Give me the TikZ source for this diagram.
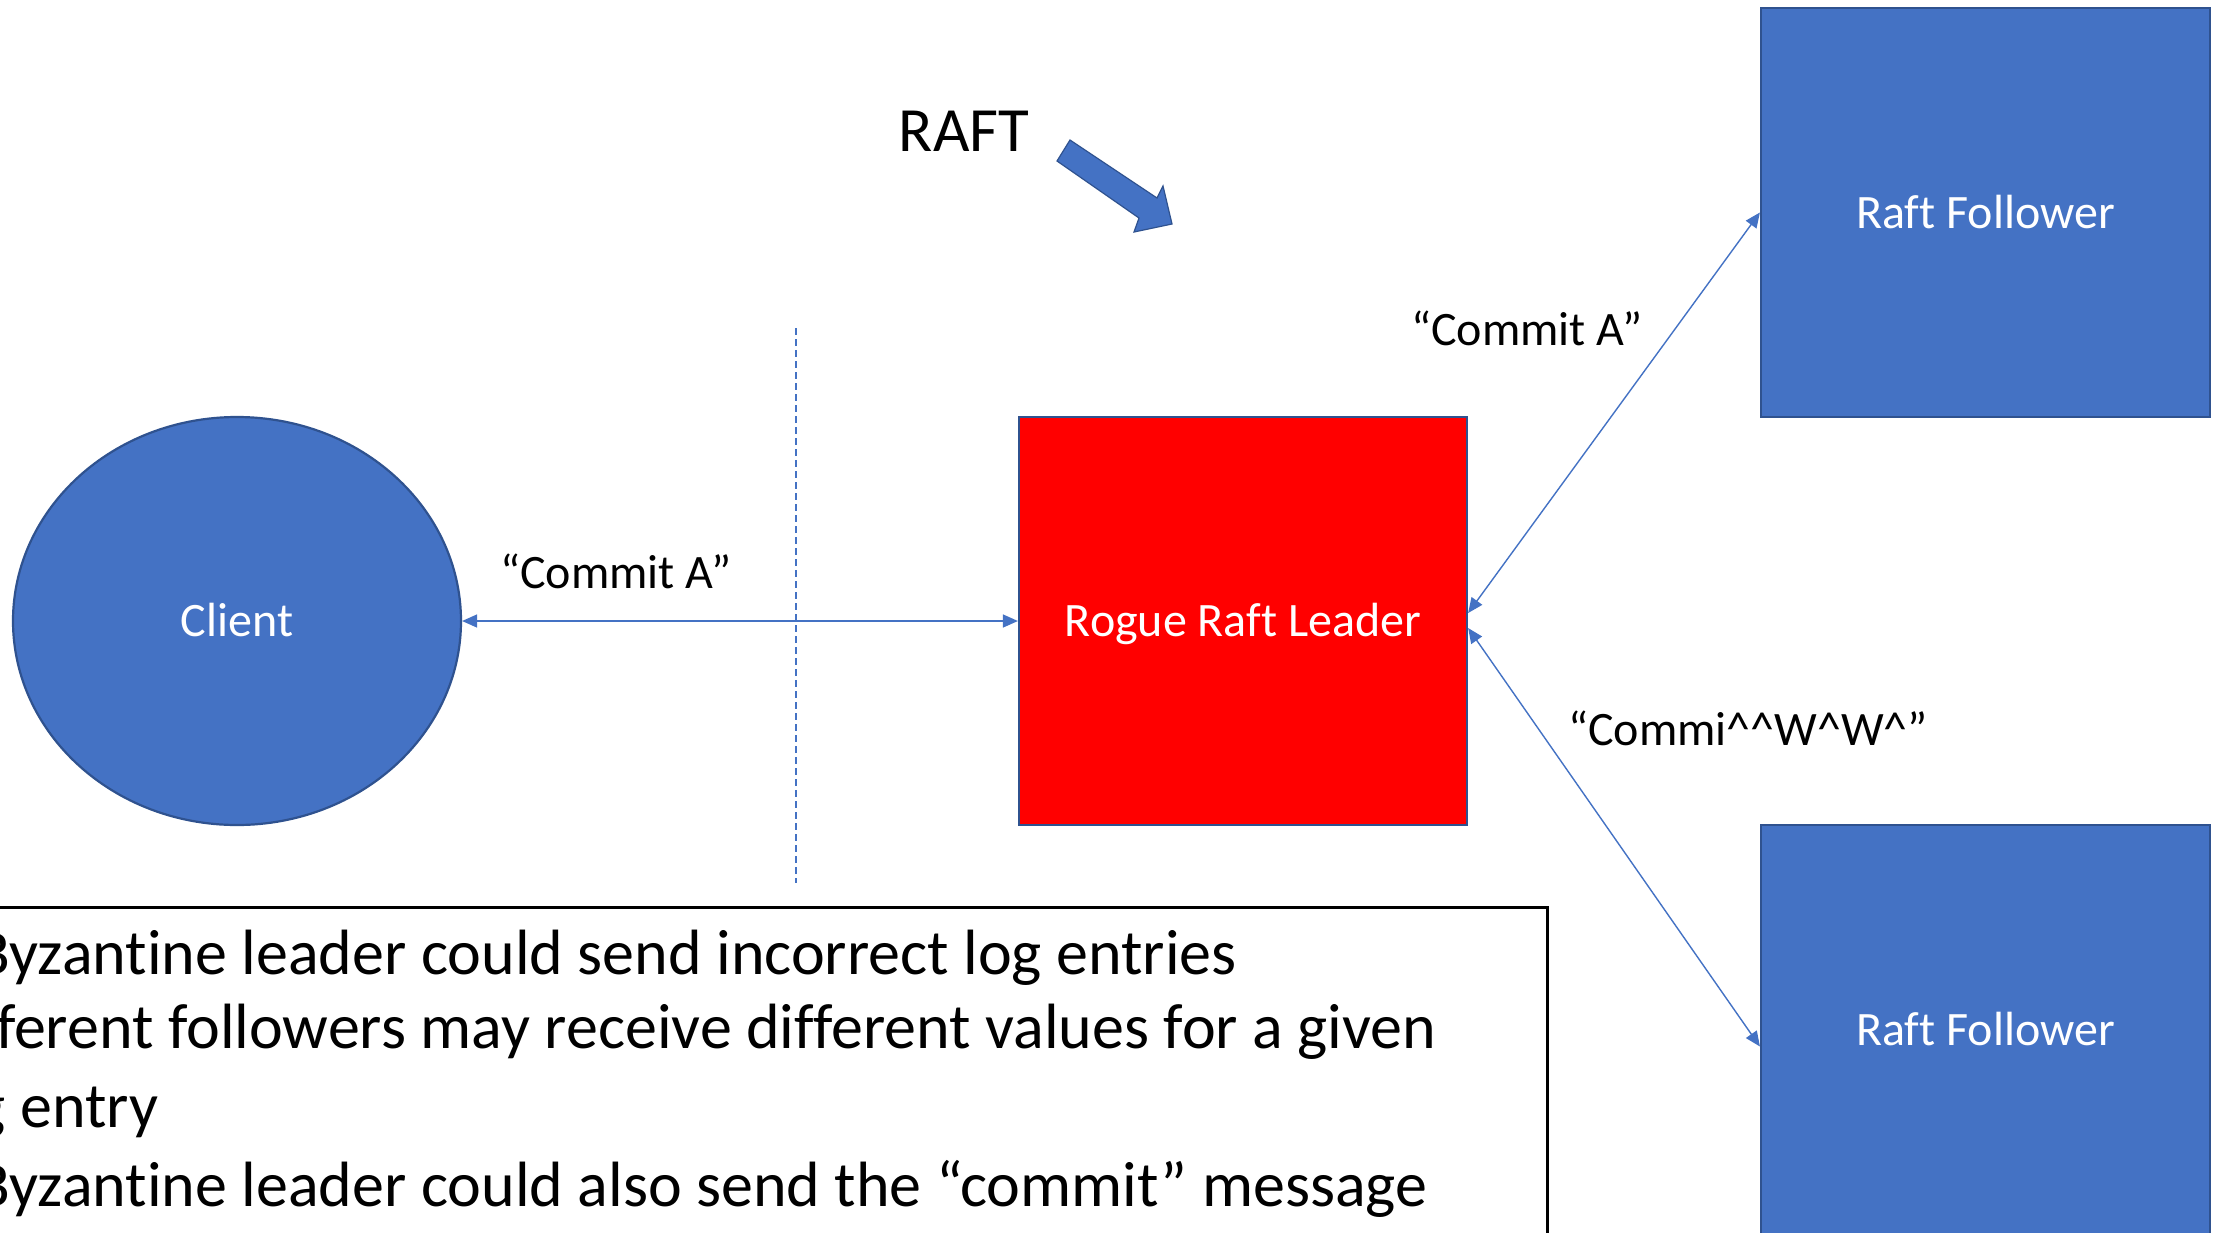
\documentclass[tikz,border=0pt]{standalone}
\usepackage{fontspec}
\setmainfont{Carlito}[Ligatures=CommonOff]
\usetikzlibrary{arrows.meta,shapes.geometric}
\definecolor{officeblue}{HTML}{4472C4}
\definecolor{officeedge}{HTML}{2F528F}
\definecolor{roguered}{HTML}{FF0000}

\begin{document}
\begin{tikzpicture}[x=1pt,y=-1pt,
  shapetext/.style={font=\fontsize{48}{58}\selectfont, text=white,
    text height=31pt, text depth=0pt, inner sep=0pt},
  bluebox/.style={shapetext, rectangle, draw=officeedge, line width=2.2pt,
    fill=officeblue, minimum width=449pt, minimum height=409pt},
  leaderbox/.style={shapetext, rectangle, draw=officeedge, line width=2.2pt,
    fill=roguered, minimum width=448pt, minimum height=408pt},
  clientshape/.style={shapetext, ellipse, draw=officeedge, line width=2.2pt,
    fill=officeblue, minimum width=448pt, minimum height=408pt},
  msg/.style={officeblue, line width=1.4pt,
    {Triangle[length=15pt,width=13pt]}-{Triangle[length=15pt,width=13pt]}},
  msglabel/.style={font=\fontsize{48}{58}\selectfont, anchor=base, inner sep=0pt},
  noteline/.style={font=\fontsize{64}{77}\selectfont, anchor=base west, inner sep=0pt},
]
\useasboundingbox (0,0) rectangle (2214,1232);
\clip (0,0) rectangle (2214,1232);
\fill[white] (0,0) rectangle (2214,1232);

% title and block arrow
\node[font=\fontsize{63}{75}\selectfont, anchor=base, inner sep=0pt] (title) at (964,151) {RAFT};
\filldraw[fill=officeblue, draw=officeedge, line width=1.2pt, line join=miter]
  (1070,140) -- (1157,198) -- (1163,186) -- (1172,224) -- (1134,232)
  -- (1139,218) -- (1057,161) -- cycle;

% trust boundary
\coordinate (sepTop) at (796,328);
\coordinate (sepBot) at (796,883);
\draw[officeblue, line width=1.6pt, dash pattern=on 7pt off 4pt] (sepTop) -- (sepBot);

% participants
\node[clientshape] (client) at (237,621) {Client};
\node[leaderbox] (leader) at (1243,621) {Rogue Raft Leader};
\node[bluebox] (f1) at (1985.5,212.5) {Raft Follower};
\node[bluebox] (f2) at (1985.5,1029.5) {Raft Follower};

% messages
\draw[msg] (client.east) -- (leader.west);
\draw[msg] ([yshift=8pt]leader.east) -- (f1.west);
\draw[msg] ([yshift=-7pt]leader.east) -- ([yshift=-17pt]f2.west);

\node[msglabel] (lblClient) at (616,588) {“Commit A”};
\node[msglabel] (lblF1) at (1527,345) {“Commit A”};
\node[msglabel] (lblF2) at (1748,745)
  {“Commi\textasciicircum\textasciicircum W\textasciicircum W\textasciicircum”};

% notes box
\node[draw=black, line width=3pt, rectangle, anchor=north east,
  minimum width=1600pt, minimum height=400pt, inner sep=0pt] (notes) at (1549,906) {};
\node[noteline] (n1) at (-25,974) {Byzantine leader could send incorrect log entries};
\node[noteline] (n2) at (-77,1048) {Different followers may receive different values for a given};
\node[noteline] (n3) at (-73,1127) {log entry};
\node[noteline] (n4) at (-25,1206) {Byzantine leader could also send the “commit” message};
\end{tikzpicture}
\end{document}
